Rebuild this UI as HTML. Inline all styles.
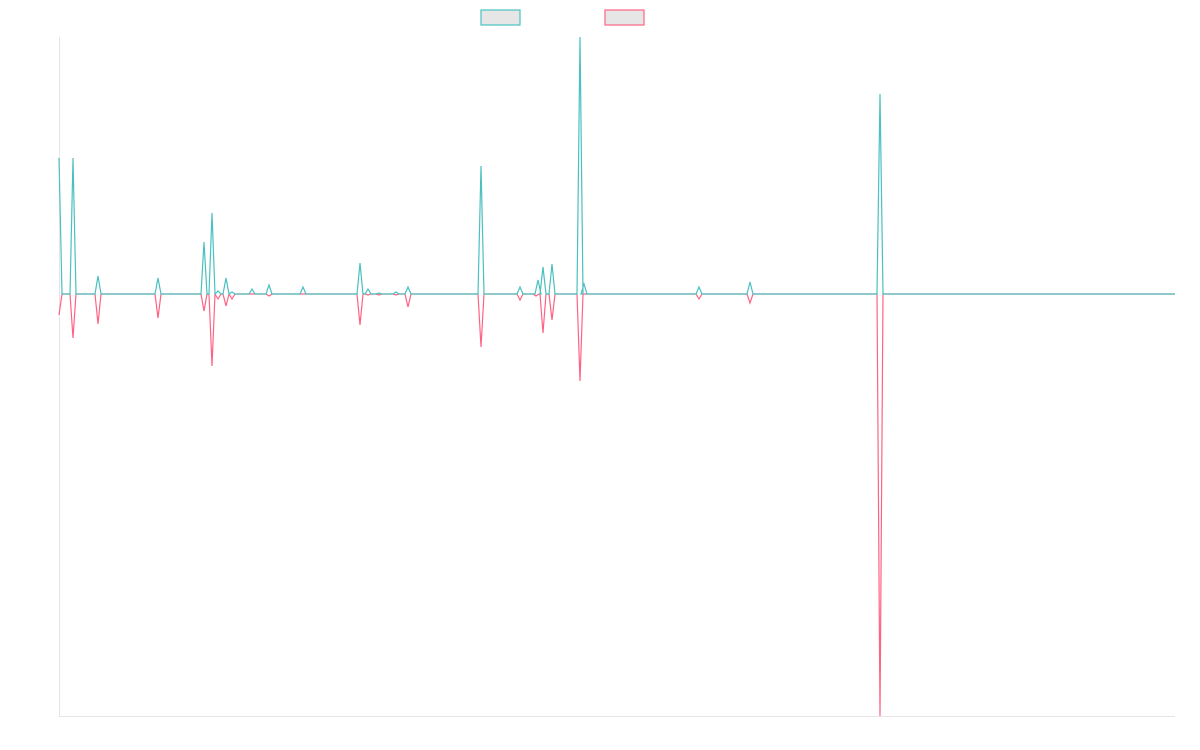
<!DOCTYPE html>
<html><head><style>html,body{margin:0;padding:0;background:#fff;width:1200px;height:750px;overflow:hidden}</style></head>
<body>
<svg width="1200" height="750" xmlns="http://www.w3.org/2000/svg" id="s">
<rect x="481" y="10" width="39" height="15" fill="#e6e6e6" stroke="#4bc0c0" stroke-width="1.2"/>
<rect x="605" y="10" width="39" height="15" fill="#e6e6e6" stroke="#ff6384" stroke-width="1.2"/>
<line x1="59.5" y1="37" x2="59.5" y2="716" stroke="#e5e5e5"/>
<line x1="59" y1="716.5" x2="1175" y2="716.5" stroke="#e5e5e5"/>
<polyline id="r" fill="none" stroke="#ff6384" stroke-width="1.2"/>
<polyline id="t" fill="none" stroke="#4bc0c0" stroke-width="1.2"/>
</svg>
<script>
function build(start,spikes){
  var b=294, pts=[[59,start],[62,b]];
  spikes.forEach(function(s){pts.push([s[0]-3,b],[s[0],s[1]],[s[0]+3,b]);});
  pts.push([1175,b]);
  return pts.map(function(p){return p[0]+','+p[1]}).join(' ');
}
var T=[[73,158],[98,276],[158,278],[204,242],[212,213],[218,291],[226,278],[232,292],[252,289],[269,285],[303,287],[360,263],[368,289],[379,293],[396,292],[408,287],[481,166],[520,287],[538,280],[543,267],[552,264],[580,37],[584,284],[699,287],[750,282],[880,94]];
var R=[[73,338],[98,324],[158,318],[204,311],[212,366],[218,299],[226,306],[232,299],[269,296],[360,325],[368,295],[379,295],[396,295],[408,307],[481,347],[520,300],[536,296],[543,333],[552,320],[580,381],[699,299],[750,303],[880,716]];
document.getElementById('t').setAttribute('points',build(158,T));
document.getElementById('r').setAttribute('points',build(315,R));
</script>
</body></html>
